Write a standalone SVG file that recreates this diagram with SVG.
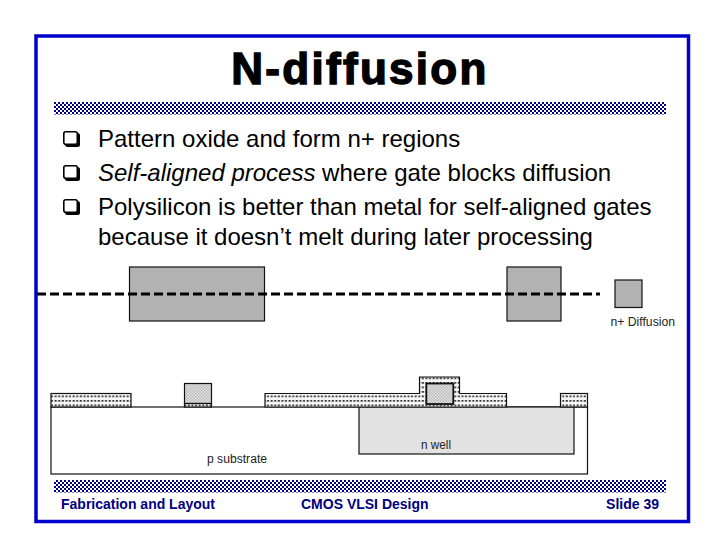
<svg xmlns="http://www.w3.org/2000/svg" width="720" height="540" viewBox="0 0 720 540">
<style>
.b{font-family:"Liberation Sans",Arial,sans-serif;font-size:24px;fill:#000}
.f{font-family:"Liberation Sans",Arial,sans-serif;font-size:14px;font-weight:bold;fill:#000080}
.s{font-family:"Liberation Sans",Arial,sans-serif;font-size:12px;fill:#222}
.o{stroke:#111;stroke-width:1.2}
.q{fill:#fff;stroke:#000;stroke-width:1.6}
</style>
<defs>
<pattern id="band" width="4" height="4" patternUnits="userSpaceOnUse"><rect width="4" height="4" fill="#fff"/><rect width="2" height="2" fill="#000080"/><rect x="2" y="2" width="2" height="2" fill="#000080"/></pattern>
<pattern id="dots" x="0" y="391" width="3.6" height="4.5" patternUnits="userSpaceOnUse"><rect width="3.6" height="4.5" fill="#f6f6f6"/><rect x="0.6" y="0" width="2" height="1.7" fill="#333"/></pattern>
<pattern id="gate" width="3" height="3" patternUnits="userSpaceOnUse"><rect width="3" height="3" fill="#e2e2e2"/><rect width="1.5" height="1.5" fill="#bbb"/><rect x="1.5" y="1.5" width="1.5" height="1.500" fill="#bbb"/></pattern>
<g id="bullet"><rect x="2" y="-14" width="15" height="14" rx="2.500" fill="#000"/><rect x="0.800" y="-15.200" width="13.500" height="12.500" rx="2" class="q"/></g>
</defs>
<rect width="720" height="540" fill="#fff"/>
<rect x="36" y="36" width="652.500" height="485.500" fill="none" stroke="#0000cc" stroke-width="3.500"/>
<rect x="54" y="102" width="612" height="12.500" fill="url(#band)"/>
<rect x="54" y="480" width="612" height="12.500" fill="url(#band)"/>
<text x="360" y="84" text-anchor="middle" font-family="'Liberation Sans',Arial,sans-serif" font-size="44" font-weight="bold" stroke="#000" stroke-width="1.400" letter-spacing="2.300">N-diffusion</text>
<g id="bullets">
<use href="#bullet" x="63" y="147"/><text x="98" y="147" class="b">Pattern oxide and form n+ regions</text>
<use href="#bullet" x="63" y="181"/><text x="98" y="181" class="b"><tspan font-style="italic">Self-aligned process</tspan> where gate blocks diffusion</text>
<use href="#bullet" x="63" y="215"/><text x="98" y="215" class="b">Polysilicon is better than metal for self-aligned gates</text>
<text x="98" y="245" class="b">because it doesn’t melt during later processing</text>
</g>
<g id="layout">
<rect x="129.500" y="267" width="135" height="54" fill="#b2b2b2" class="o"/>
<rect x="507" y="267" width="54" height="54" fill="#b2b2b2" class="o"/>
<path d="M37 294H600" stroke="#000" stroke-width="3" stroke-dasharray="9 4" fill="none"/>
<rect x="615" y="280" width="27" height="27.500" fill="#b2b2b2" class="o"/>
<text x="610.500" y="326" class="s" textLength="64.500" lengthAdjust="spacingAndGlyphs">n+ Diffusion</text>
</g>
<g id="cross-section">
<rect x="51" y="407" width="536.500" height="67" fill="#fff" class="o"/>
<rect x="359" y="407" width="215" height="47" fill="#e2e2e2" class="o"/>
<rect x="51" y="393.500" width="80" height="13.500" fill="url(#dots)" class="o"/>
<path d="M265 407V393.500H419.500V377H459.500V393.500H506.500V407Z" fill="url(#dots)" class="o"/>
<rect x="560.500" y="393.500" width="27" height="13.500" fill="url(#dots)" class="o"/>
<rect x="184.500" y="383.500" width="27" height="20" fill="url(#gate)" class="o"/>
<rect x="184.500" y="403.500" width="27" height="3.500" fill="url(#dots)" class="o"/>
<rect x="426.300" y="383.500" width="27" height="20.500" fill="url(#gate)" stroke="#111" stroke-width="1.800"/>
<text x="207" y="463" class="s" textLength="60" lengthAdjust="spacingAndGlyphs">p substrate</text>
<text x="421" y="449" class="s" textLength="30" lengthAdjust="spacingAndGlyphs">n well</text>
</g>
<g id="footer">
<text x="61" y="508.500" class="f">Fabrication and Layout</text>
<text x="301" y="508.500" class="f">CMOS VLSI Design</text>
<text x="659" y="508.500" class="f" text-anchor="end">Slide 39</text>
</g>
</svg>
